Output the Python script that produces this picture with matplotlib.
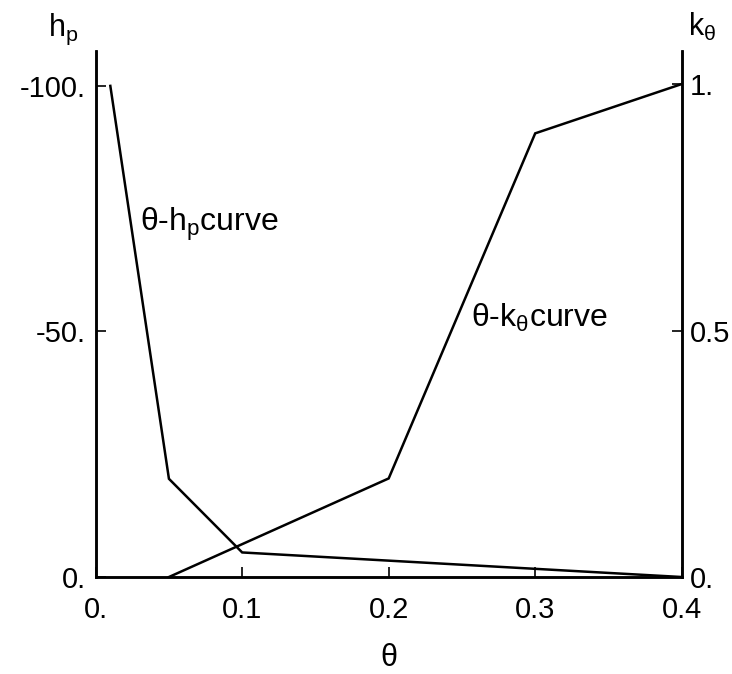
import matplotlib
matplotlib.use("Agg")
import matplotlib.pyplot as plt

plt.rcParams['font.family'] = ['Liberation Sans', 'DejaVu Sans']
plt.rcParams['mathtext.fontset'] = 'custom'
plt.rcParams['mathtext.rm'] = 'Liberation Sans'
plt.rcParams['mathtext.it'] = 'Liberation Sans'

# data
theta_h = [0.01, 0.05, 0.1, 0.4]
h_p = [-100, -20, -5, 0]
theta_k = [0.05, 0.2, 0.3, 0.4]
k_theta = [0.0, 0.2, 0.9, 1.0]

x_ticks = [0.0, 0.1, 0.2, 0.3, 0.4]
x_labels = ["0.", "0.1", "0.2", "0.3", "0.4"]
h_ticks = [0, -50, -100]
h_labels = ["0.", "-50.", "-100."]
k_ticks = [0.0, 0.5, 1.0]
k_labels = ["0.", "0.5", "1."]

fig = plt.figure(figsize=(7.32, 6.74), dpi=100)
ax = fig.add_axes([0.1307, 0.1439, 0.8006, 0.7804])
ax2 = ax.twinx()

ax.plot(theta_h, h_p, color='black', lw=1.8, solid_joinstyle='miter')
ax2.plot(theta_k, k_theta, color='black', lw=1.8, solid_joinstyle='miter')

ax.set_xlim(0, 0.4)
ax.set_ylim(0, -107.1)
ax2.set_ylim(0, 1.067)

ax.set_xticks(x_ticks)
ax.set_xticklabels(x_labels)
ax.set_yticks(h_ticks)
ax.set_yticklabels(h_labels)
ax2.set_yticks(k_ticks)
ax2.set_yticklabels(k_labels)

fs = 21
ax.tick_params(axis='x', direction='in', length=7, width=1.2, pad=14, labelsize=fs)
ax.tick_params(axis='y', direction='in', length=7, width=1.2, pad=7, labelsize=fs)
ax2.tick_params(axis='y', direction='in', length=7, width=1.2, pad=6, labelsize=fs)

for a in (ax, ax2):
    a.spines['top'].set_visible(False)
    for s in ('left', 'right', 'bottom'):
        a.spines[s].set_linewidth(1.8)

ax.set_xlabel("θ", fontsize=22, labelpad=13)

fig.text(48/732, 1 - 47/674, r"h$_\mathrm{p}$", fontsize=22, ha='left', va='bottom')
fig.text(688/732, 1 - 43/674, r"k$_\mathrm{θ}$", fontsize=22, ha='left', va='bottom')

ax.text(0.030, -70.5, r"θ-h$_\mathrm{p}$curve", fontsize=23, ha='left', va='baseline')
ax2.text(0.256, 0.508, r"θ-k$_\mathrm{θ}$curve", fontsize=23, ha='left', va='baseline')

fig.savefig("out.png", dpi=100, facecolor='white')
